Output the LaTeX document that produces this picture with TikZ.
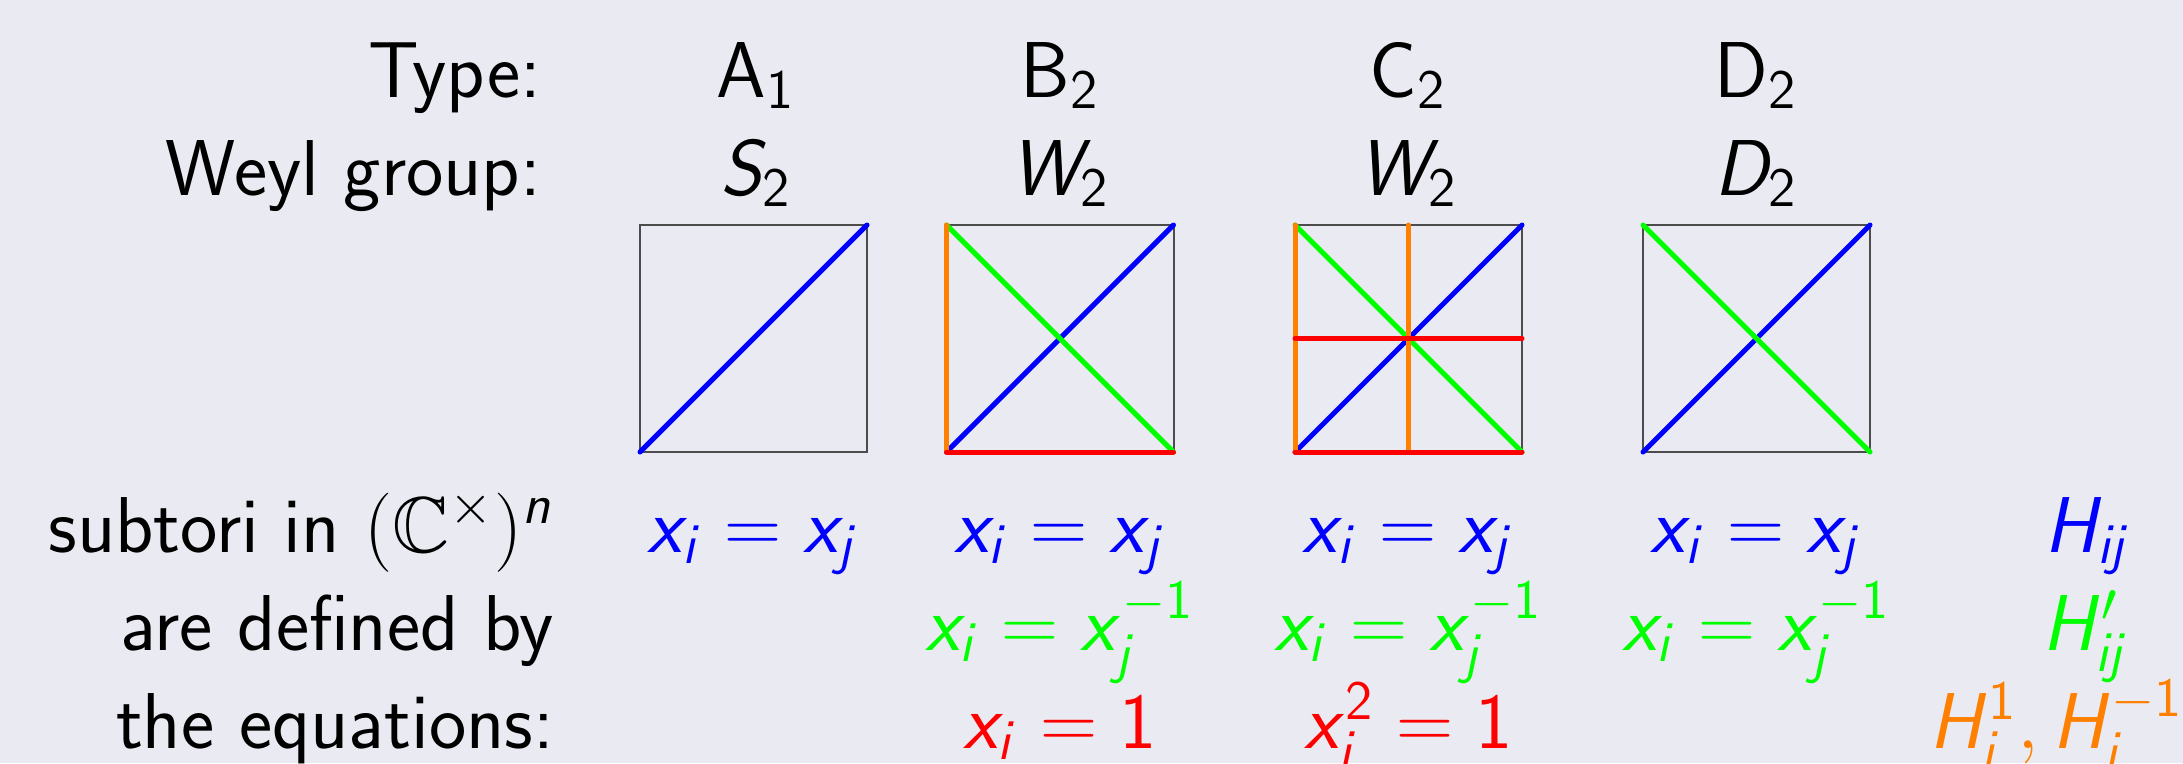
\documentclass[tikz,border=0pt]{standalone}
\usepackage{fix-cm}
\usepackage{amssymb}
\DeclareSymbolFont{sfit}{OT1}{cmss}{m}{sl}
\DeclareSymbolFont{sfup}{OT1}{cmss}{m}{n}
\DeclareMathSymbol{x}{\mathalpha}{sfit}{`x}
\DeclareMathSymbol{i}{\mathalpha}{sfit}{`i}
\DeclareMathSymbol{j}{\mathalpha}{sfit}{`j}
\DeclareMathSymbol{n}{\mathalpha}{sfit}{`n}
\DeclareMathSymbol{S}{\mathalpha}{sfit}{`S}
\DeclareMathSymbol{W}{\mathalpha}{sfit}{`W}
\DeclareMathSymbol{D}{\mathalpha}{sfit}{`D}
\DeclareMathSymbol{H}{\mathalpha}{sfit}{`H}
\DeclareMathSymbol{1}{\mathalpha}{sfup}{`1}
\DeclareMathSymbol{2}{\mathalpha}{sfup}{`2}
\definecolor{bg}{RGB}{234,234,242}
\definecolor{cblue}{RGB}{0,0,255}
\definecolor{cgreen}{RGB}{0,255,0}
\definecolor{cred}{RGB}{255,0,0}
\definecolor{corange}{RGB}{255,128,0}
\tikzset{
  txt/.style={inner sep=0pt, outer sep=0pt},
  sq/.style={draw=black!70, line width=0.5pt, minimum size=56.75pt, inner sep=0pt, outer sep=0pt},
  root/.style={line width=1.25pt, line cap=round},
}
\begin{document}
\begin{tikzpicture}[x=0.25pt, y=-0.25pt, font=\fontsize{19.8}{24}\selectfont\sffamily]
\fill[bg] (0,0) rectangle (2183,763);
\useasboundingbox (0,0) rectangle (2183,763);
\clip (0,0) rectangle (2183,763);
% row labels
\node[txt, anchor=base east] (ltype) at (541,97) {Type:};
\node[txt, anchor=base east] (lweyl) at (541,195) {Weyl group:};
\node[txt, anchor=base east] (lsub) at (554,552) {subtori in $(\mathbb{C}^\times)^n$};
\node[txt, anchor=base east] (lare) at (554,650) {are defined by};
\node[txt, anchor=base east] (lthe) at (554,748) {the equations:};
% header
\node[txt, anchor=base] (ta) at (756,97) {A$_1$};
\node[txt, anchor=base] (tb) at (1060,97) {B$_2$};
\node[txt, anchor=base] (tc) at (1408,97) {C$_2$};
\node[txt, anchor=base] (td) at (1756,97) {D$_2$};
\node[txt, anchor=base] (wa) at (756,195) {$S_2$};
\node[txt, anchor=base] (wb) at (1060,195) {$W_2$};
\node[txt, anchor=base] (wc) at (1408,195) {$W_2$};
\node[txt, anchor=base] (wd) at (1756,195) {$D_2$};
% squares
\node[sq] (s1) at (753.5,338.5) {};
\node[sq] (s2) at (1060,338.5) {};
\node[sq] (s3) at (1408.5,338.5) {};
\node[sq] (s4) at (1756.5,338.5) {};
% A1
\draw[root, cblue] (s1.south west) -- (s1.north east);
% B2
\draw[root, cblue] (s2.south west) -- (s2.north east);
\draw[root, cgreen] (s2.north west) -- (s2.south east);
\draw[root, corange] (s2.south west) -- (s2.north west);
\draw[root, cred] (s2.south west) -- (s2.south east);
% C2
\draw[root, cblue] (s3.south west) -- (s3.north east);
\draw[root, cgreen] (s3.north west) -- (s3.south east);
\draw[root, corange] (s3.south west) -- (s3.north west);
\draw[root, corange] (s3.south) -- (s3.north);
\draw[root, cred] (s3.west) -- (s3.east);
\draw[root, cred] (s3.south west) -- (s3.south east);
% D2
\draw[root, cblue] (s4.south west) -- (s4.north east);
\draw[root, cgreen] (s4.north west) -- (s4.south east);
% equations
\node[txt, anchor=base, text=cblue] (e1a) at (753.5,552) {$x_i = x_j$};
\node[txt, anchor=base, text=cblue] (e2a) at (1060,552) {$x_i = x_j$};
\node[txt, anchor=base, text=cgreen] (e2b) at (1060,650) {$x_i = x_j^{-1}$};
\node[txt, anchor=base, text=cred] (e2c) at (1060,748) {$x_i = 1$};
\node[txt, anchor=base, text=cblue] (e3a) at (1408.5,552) {$x_i = x_j$};
\node[txt, anchor=base, text=cgreen] (e3b) at (1408.5,650) {$x_i = x_j^{-1}$};
\node[txt, anchor=base, text=cred] (e3c) at (1408.5,748) {$x_i^2 = 1$};
\node[txt, anchor=base, text=cblue] (e4a) at (1756.5,552) {$x_i = x_j$};
\node[txt, anchor=base, text=cgreen] (e4b) at (1756.5,650) {$x_i = x_j^{-1}$};
% hyperplanes
\node[txt, anchor=base, text=cblue] (h1) at (2088,552) {$H_{ij}$};
\node[txt, anchor=base, text=cgreen] (h2) at (2086,650) {$H'_{ij}$};
\node[txt, anchor=base east, text=corange] (h3) at (2184,748) {$H_i^1,H_i^{-1}$};
\end{tikzpicture}
\end{document}
